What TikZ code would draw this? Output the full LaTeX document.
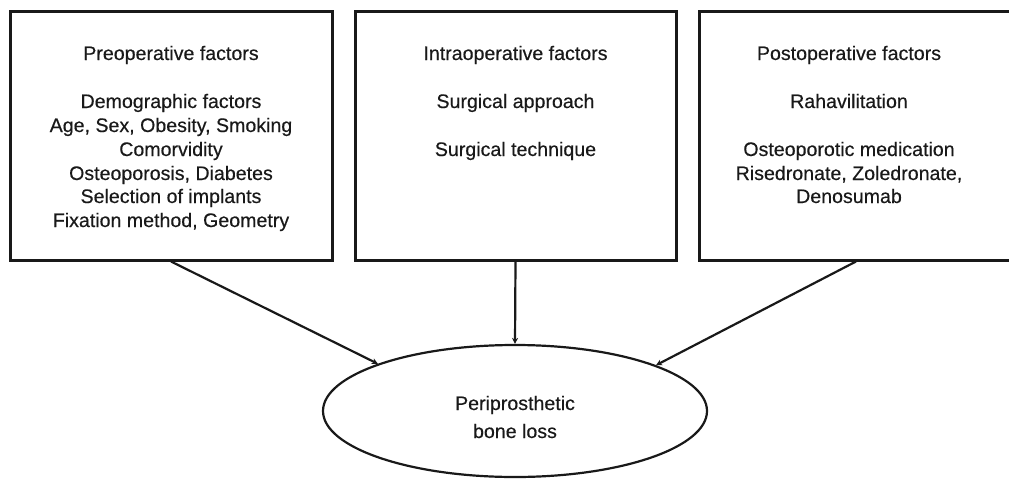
\documentclass[tikz,border=0pt]{standalone}
\usepackage{fontspec}
\setmainfont{Liberation Sans}
\newfontfamily\diagfont[FakeBold=0.4]{Liberation Sans}
\usetikzlibrary{shapes.geometric,arrows.meta}
\tikzset{
  box/.style={draw=black!90, line width=3pt, rectangle, inner sep=0pt},
  txt/.style={anchor=base, inner sep=0pt, font=\diagfont\fontsize{19.6}{23.5}\selectfont, text=black!90},
  arr/.style={draw=black!90, line width=2.2pt, -{Stealth[length=6pt,width=6pt]}},
  oval/.style={draw=black!90, line width=2.2pt, ellipse, inner sep=0pt, minimum width=384pt, minimum height=132pt}
}
\begin{document}
\begin{tikzpicture}[x=1pt,y=-1pt]
\useasboundingbox (0,0) rectangle (1009,479);
\clip (0,0) rectangle (1009,479);
% boxes
\node[box, minimum width=322pt, minimum height=249pt] (b1) at (171,135.5) {};
\node[box, minimum width=321pt, minimum height=249pt] (b2) at (515.5,135.5) {};
\node[box, minimum width=314pt, minimum height=249pt] (b3) at (856,135.5) {};
% box 1 text
\node[txt] (t11) at (171,60) {Preoperative factors};
\node[txt] (t12) at (171,108) {Demographic factors};
\node[txt] (t13) at (171,132) {Age, Sex, Obesity, Smoking};
\node[txt] (t14) at (171,156) {Comorvidity};
\node[txt] (t15) at (171,180) {Osteoporosis, Diabetes};
\node[txt] (t16) at (171,203) {Selection of implants};
\node[txt] (t17) at (171,227) {Fixation method, Geometry};
% box 2 text
\node[txt] (t21) at (515.5,60) {Intraoperative factors};
\node[txt] (t22) at (515.5,108) {Surgical approach};
\node[txt] (t23) at (515.5,156) {Surgical technique};
% box 3 text
\node[txt] (t31) at (849,60) {Postoperative factors};
\node[txt] (t32) at (849,108) {Rahavilitation};
\node[txt] (t33) at (849,156) {Osteoporotic medication};
\node[txt] (t34) at (849,180) {Risedronate, Zoledronate,};
\node[txt] (t35) at (849,203) {Denosumab};
% ellipse
\node[oval] (e) at (515,411) {};
\node[txt] (et1) at (515,410) {Periprosthetic};
\node[txt] (et2) at (515,438) {bone loss};
% arrows
\draw[arr] (b1.south) -- (e.161);
\draw[arr] (b2.south) -- (e.north);
\draw[arr] (b3.south) -- (e.18);
\end{tikzpicture}
\end{document}
